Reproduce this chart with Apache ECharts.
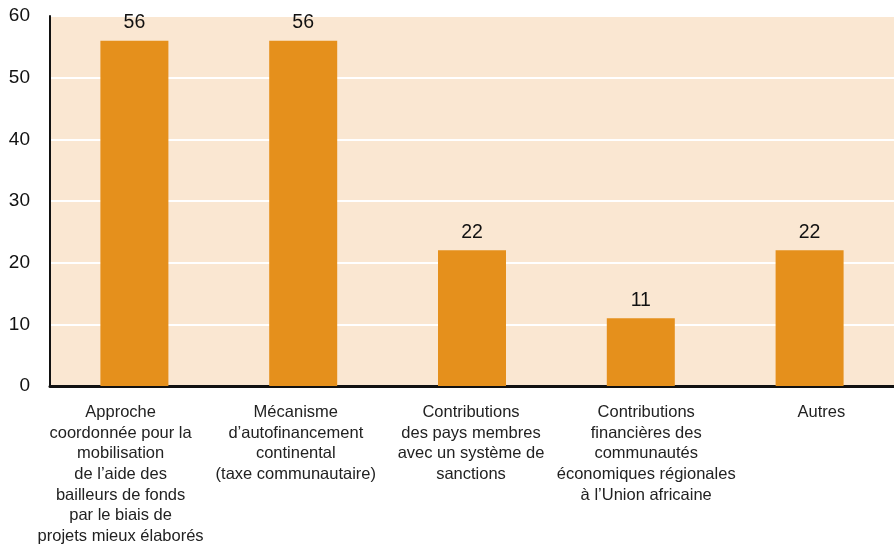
<!DOCTYPE html>
<html>
<head>
<meta charset="utf-8">
<script src="https://cdn.jsdelivr.net/npm/echarts@6/dist/echarts.min.js"></script>
<style>
  html, body { margin: 0; padding: 0; background: #ffffff; }
  #chart { width: 894px; height: 546px; }
</style>
</head>
<body>
<div id="chart"></div>
<script>
// Financing options and the share of responses for each
const categories = [
  "Approche\ncoordonnée pour la\nmobilisation\nde l’aide des\nbailleurs de fonds\npar le biais de\nprojets mieux élaborés",
  "Mécanisme\nd’autofinancement\ncontinental\n(taxe communautaire)",
  "Contributions\ndes pays membres\navec un système de\nsanctions",
  "Contributions\nfinancières des\ncommunautés\néconomiques régionales\nà l’Union africaine",
  "Autres"
];
const values = [56, 56, 22, 11, 22];
const yTicks = [0, 10, 20, 30, 40, 50, 60];

const FONT = "'Liberation Sans', Arial, Helvetica, sans-serif";
const chart = echarts.init(document.getElementById('chart'), null, { renderer: 'canvas' });

chart.setOption({
  animation: false,
  backgroundColor: '#ffffff',
  grid: [
    {
      // plot area with the bars
      left: 50, right: 0, top: 16, bottom: 160,
      outerBoundsMode: 'none',
      containLabel: false,
      show: true, backgroundColor: '#FAE7D2', borderWidth: 0
    },
    {
      // band carrying the category captions, spaced slightly wider
      left: 33, right: -15, top: 16, bottom: 160,
      outerBoundsMode: 'none',
      containLabel: false,
      show: false
    }
  ],
  xAxis: [
    {
      type: 'category',
      gridIndex: 0,
      data: categories,
      axisLine: { show: true, lineStyle: { color: '#111111', width: 3 } },
      axisTick: { show: false },
      axisLabel: { show: false },
      splitLine: { show: false }
    },
    {
      type: 'category',
      gridIndex: 1,
      data: categories,
      axisLine: { show: false },
      axisTick: { show: false },
      axisLabel: {
        interval: 0,
        margin: 16,
        color: '#222222',
        fontFamily: FONT,
        fontSize: 16.5,
        lineHeight: 20.7,
        align: 'center'
      },
      splitLine: { show: false }
    }
  ],
  yAxis: [
    {
      type: 'value',
      gridIndex: 0,
      min: yTicks[0],
      max: yTicks[yTicks.length - 1],
      interval: 10,
      axisLine: { show: true, lineStyle: { color: '#111111', width: 2 } },
      axisTick: { show: false },
      axisLabel: {
        margin: 20,
        color: '#111111',
        fontFamily: FONT,
        fontSize: 19
      },
      splitLine: {
        show: true,
        lineStyle: { color: '#ffffff', width: 2 }
      }
    },
    {
      type: 'value',
      gridIndex: 1,
      min: yTicks[0],
      max: yTicks[yTicks.length - 1],
      show: false
    }
  ],
  series: [{
    type: 'bar',
    xAxisIndex: 0,
    yAxisIndex: 0,
    data: values,
    barWidth: 68,
    itemStyle: { color: '#E5901C' },
    label: {
      show: true,
      position: 'top',
      distance: 8,
      color: '#111111',
      fontFamily: FONT,
      fontSize: 19.5
    }
  }]
});
</script>
</body>
</html>
